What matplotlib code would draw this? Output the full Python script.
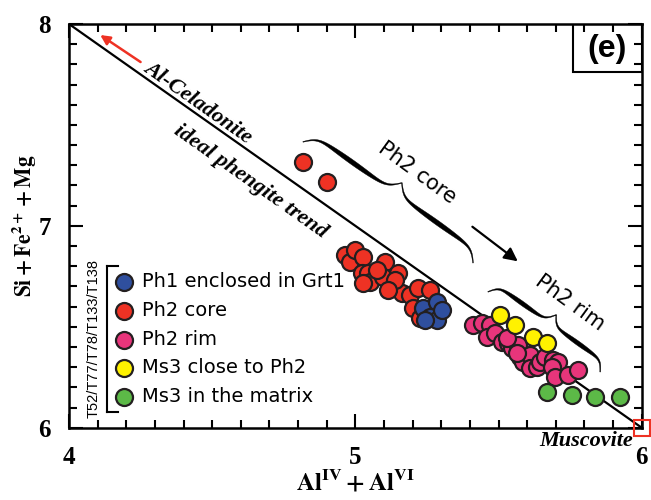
import numpy as np
import matplotlib
matplotlib.use("Agg")
import matplotlib.pyplot as plt
from matplotlib.patches import Rectangle, Polygon

plt.rcParams["mathtext.fontset"] = "stix"

# ---- data ----
ph1_x = [5.236, 5.285, 5.261, 5.285, 5.303, 5.243]
ph1_y = [6.593, 6.623, 6.549, 6.534, 6.583, 6.534]

core_x = [4.818, 4.900, 4.964, 4.981, 4.999, 5.027, 5.023, 5.044, 5.051, 5.027,
          5.104, 5.097, 5.128, 5.149, 5.163, 5.139, 5.191, 5.219, 5.261, 5.202,
          5.226, 5.076, 5.114]
core_y = [7.318, 7.216, 6.856, 6.821, 6.881, 6.846, 6.767, 6.767, 6.722, 6.717,
          6.821, 6.747, 6.692, 6.767, 6.667, 6.732, 6.658, 6.692, 6.682, 6.593,
          6.544, 6.782, 6.682]

rim_x = [5.412, 5.441, 5.470, 5.459, 5.488, 5.511, 5.534, 5.546, 5.569, 5.575,
         5.587, 5.610, 5.610, 5.634, 5.645, 5.663, 5.692, 5.709, 5.686, 5.697,
         5.744, 5.779, 5.564, 5.529]
rim_y = [6.509, 6.517, 6.509, 6.451, 6.468, 6.426, 6.418, 6.393, 6.410, 6.352,
         6.327, 6.360, 6.294, 6.302, 6.327, 6.352, 6.335, 6.327, 6.302, 6.253,
         6.261, 6.286, 6.369, 6.443]

ms3_close_x = [5.505, 5.558, 5.622, 5.669]
ms3_close_y = [6.558, 6.509, 6.451, 6.418]

ms3_mat_x = [5.669, 5.756, 5.837, 5.925]
ms3_mat_y = [6.178, 6.162, 6.154, 6.154]

trend_x = [4.0, 6.0]   # Al-celadonite -> muscovite
trend_y = [8.0, 6.0]

groups = [
    ("Ph1 enclosed in Grt1", ph1_x, ph1_y, "#2f4f9e"),
    ("Ph2 core", core_x, core_y, "#ee3224"),
    ("Ph2 rim", rim_x, rim_y, "#e8357b"),
    ("Ms3 close to Ph2", ms3_close_x, ms3_close_y, "#fff200"),
    ("Ms3 in the matrix", ms3_mat_x, ms3_mat_y, "#5cb947"),
]
draw_order = [1, 0, 2, 3, 4]

EDGE = "#231f20"


def brace(ax, p0, p1, h_px, wmax=4.0, beta=40.0, n=600):
    """calligraphic curly brace between p0 and p1 (data) as a filled outline."""
    d0 = ax.transData.transform(p0)
    d1 = ax.transData.transform(p1)
    L = np.hypot(*(d1 - d0))
    u = (d1 - d0) / L
    nrm = np.array([-u[1], u[0]])
    xh = np.linspace(0, 0.5, n // 2)
    yh = 1 / (1 + np.exp(-beta * (xh - xh[0]))) + 1 / (1 + np.exp(-beta * (xh - xh[-1])))
    y = np.concatenate([yh, yh[-2::-1]]) - 0.5
    t = np.concatenate([xh, 1 - xh[-2::-1]])
    c = d0 + np.outer(t * L, u) + np.outer(y * h_px, nrm)
    # local normals of the centre line
    g = np.gradient(c, axis=0)
    g /= np.hypot(g[:, 0], g[:, 1])[:, None]
    nn = np.stack([-g[:, 1], g[:, 0]], axis=1)
    s = np.minimum(t, 1 - t) / 0.5
    w = 0.7 + wmax * np.sin(np.pi * s) ** 1.3
    outline = np.vstack([c + nn * (w / 2)[:, None], (c - nn * (w / 2)[:, None])[::-1]])
    outline = ax.transData.inverted().transform(outline)
    ax.add_patch(Polygon(outline, closed=True, fc="black", ec="black", lw=0.3, zorder=4))


fig = plt.figure(figsize=(6.51, 5.0), dpi=100)
ax = fig.add_axes([0.106, 0.1446, 0.8797, 0.8074])
ax.set_xlim(4, 6)
ax.set_ylim(6, 8)

ax.plot(trend_x, trend_y, color="black", lw=1.6, zorder=2)

for i in draw_order:
    lab, xs, ys, col = groups[i]
    ax.scatter(xs, ys, s=150, c=col, edgecolors=EDGE, linewidths=1.6, zorder=5, label=lab)

# muscovite end-member marker
ax.plot([6], [6], "s", ms=12, mfc="none", mec="#ee3224", mew=1.5, clip_on=False, zorder=6)

# ticks & spines
for sp in ax.spines.values():
    sp.set_linewidth(1.8)
ax.set_xticks([4, 5, 6])
ax.set_yticks([6, 7, 8])
ax.set_xticks(np.arange(4, 6.001, 0.1), minor=True)
ax.set_yticks(np.arange(6, 8.001, 0.1), minor=True)
ax.tick_params(which="both", direction="in", top=True, right=True, width=1.5)
ax.tick_params(which="major", length=10)
ax.tick_params(which="minor", length=6)
ax.tick_params(axis="x", pad=13)
ax.tick_params(axis="y", pad=13)
for lbl in ax.get_xticklabels() + ax.get_yticklabels():
    lbl.set_fontfamily("Liberation Serif")
    lbl.set_fontweight("bold")
    lbl.set_fontsize(18)

ax.set_xlabel(r"$\mathbf{Al^{IV} + Al^{VI}}$", fontsize=18, labelpad=0)
ax.set_ylabel(r"$\mathbf{Si + Fe^{2+} + Mg}$", fontsize=15.5, labelpad=0)

# annotations along the trend
ang = -35.2
ax.text(4.45, 7.61, "Al-Celadonite", rotation=ang, ha="center", va="center",
        family="Liberation Serif", style="italic", weight="bold", fontsize=16)
ax.text(4.632, 7.222, "ideal phengite trend", rotation=ang, ha="center", va="center",
        family="Liberation Serif", style="italic", weight="bold", fontsize=16)
ax.annotate("", xy=(4.101, 7.953), xytext=(4.258, 7.804),
            arrowprops=dict(arrowstyle="-|>", color="#ee3224", lw=1.8, mutation_scale=14))
ax.text(5.97, 5.935, "Muscovite", ha="right", va="center", family="Liberation Serif",
        style="italic", weight="bold", fontsize=16, clip_on=False)

# Ph2 core -> rim
ax.text(5.216, 7.261, "Ph2 core", rotation=-36, ha="center", va="center", fontsize=15)
ax.text(5.750, 6.617, "Ph2 rim", rotation=-36, ha="center", va="center", fontsize=15)
ax.annotate("", xy=(5.575, 6.816), xytext=(5.401, 7.004),
            arrowprops=dict(arrowstyle="-|>", color="black", lw=1.6, mutation_scale=20))
brace(ax, (4.817, 7.416), (5.411, 6.816), 24)
brace(ax, (5.463, 6.673), (5.855, 6.276), 21, wmax=3.6)

# panel tag
ax.add_patch(Rectangle((0.880, 0.881), 0.12, 0.119, transform=ax.transAxes,
                       fill=False, ec="black", lw=1.5, zorder=7))
ax.text(0.940, 0.938, "(e)", transform=ax.transAxes, ha="center", va="center",
        family="Liberation Sans", weight="bold", fontsize=23)

# legend with sample bracket
handles, labels = ax.get_legend_handles_labels()
order = [labels.index(g[0]) for g in groups]
leg = ax.legend([handles[k] for k in order], [labels[k] for k in order],
                loc="upper left", bbox_to_anchor=(0.079, 0.385), frameon=False,
                fontsize=14, handlelength=1.0, handletextpad=0.45, labelspacing=0.5,
                borderpad=0, borderaxespad=0)
ax.plot([0.066, 0.066], [0.04, 0.40], transform=ax.transAxes, color="black", lw=1.5)
ax.plot([0.066, 0.085], [0.40, 0.40], transform=ax.transAxes, color="black", lw=1.5)
ax.plot([0.066, 0.085], [0.04, 0.04], transform=ax.transAxes, color="black", lw=1.5)
ax.text(0.043, 0.22, "T52/T77/T78/T133/T138", transform=ax.transAxes, rotation=90,
        ha="center", va="center", family="Liberation Sans", fontsize=10.5)

fig.savefig("out.png", dpi=100)
